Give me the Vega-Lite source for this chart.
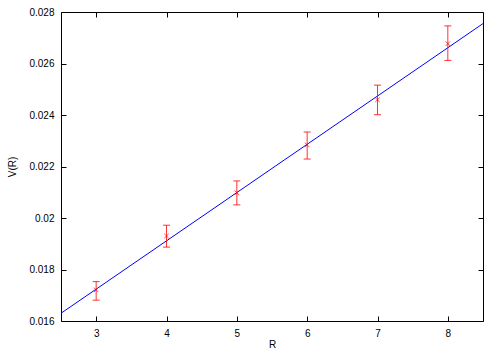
{
  "$schema": "https://vega.github.io/schema/vega-lite/v6.json",
  "width": 422,
  "height": 309,
  "autosize": {"type": "none"},
  "padding": {"left": 61, "top": 12, "right": 17, "bottom": 29},
  "background": "white",
  "config": {
    "view": {"stroke": "black", "strokeWidth": 1},
    "axis": {
      "grid": false,
      "domain": false,
      "ticks": true,
      "tickColor": "black",
      "tickWidth": 1,
      "tickSize": 5,
      "offset": -5,
      "labelFont": "Liberation Sans",
      "labelFontSize": 10,
      "labelColor": "black",
      "titleFont": "Liberation Sans",
      "titleFontSize": 10,
      "titleFontWeight": "normal",
      "titleColor": "black"
    }
  },
  "datasets": {
    "pts": [
      {"R": 3, "V": 0.01721, "lo": 0.01681, "hi": 0.01753},
      {"R": 4, "V": 0.01930, "lo": 0.01887, "hi": 0.01972},
      {"R": 5, "V": 0.02098, "lo": 0.02051, "hi": 0.02144},
      {"R": 6, "V": 0.02284, "lo": 0.02229, "hi": 0.02334},
      {"R": 7, "V": 0.02459, "lo": 0.02401, "hi": 0.02516},
      {"R": 8, "V": 0.02677, "lo": 0.02612, "hi": 0.02746}
    ],
    "fit": [
      {"R": 2.5, "V": 0.0163},
      {"R": 8.5, "V": 0.02755}
    ]
  },
  "layer": [
    {
      "data": {"name": "fit"},
      "mark": {"type": "line", "color": "#0000ff", "strokeWidth": 1, "clip": true},
      "encoding": {
        "x": {"field": "R", "type": "quantitative", "scale": {"domain": [2.5, 8.5], "nice": false, "zero": false},
          "axis": {"orient": "bottom", "title": "R", "values": [3, 4, 5, 6, 7, 8], "labelPadding": 7, "titlePadding": 1}},
        "y": {"field": "V", "type": "quantitative", "scale": {"domain": [0.016, 0.028], "nice": false, "zero": false},
          "axis": {"orient": "left", "title": "V(R)", "values": [0.016, 0.018, 0.02, 0.022, 0.024, 0.026, 0.028], "format": "~g", "labelPadding": 7, "titlePadding": 11}}
      }
    },
    {
      "data": {"name": "pts"},
      "mark": {"type": "rule", "color": "#ff0000", "strokeWidth": 1, "opacity": 0.8},
      "encoding": {
        "x": {"field": "R", "type": "quantitative", "axis": null},
        "y": {"field": "lo", "type": "quantitative", "axis": null},
        "y2": {"field": "hi"}
      }
    },
    {
      "data": {"name": "pts"},
      "mark": {"type": "tick", "color": "#ff0000", "orient": "horizontal", "size": 7, "thickness": 1, "opacity": 0.8},
      "encoding": {
        "x": {"field": "R", "type": "quantitative", "axis": null},
        "y": {"field": "lo", "type": "quantitative", "axis": null}
      }
    },
    {
      "data": {"name": "pts"},
      "mark": {"type": "tick", "color": "#ff0000", "orient": "horizontal", "size": 7, "thickness": 1, "opacity": 0.8},
      "encoding": {
        "x": {"field": "R", "type": "quantitative", "axis": null},
        "y": {"field": "hi", "type": "quantitative", "axis": null}
      }
    },
    {
      "data": {"name": "pts"},
      "mark": {"type": "point", "shape": "M-1,-1L1,1M-1,1L1,-1", "size": 20, "stroke": "#ff0000", "strokeWidth": 1, "filled": false},
      "encoding": {
        "x": {"field": "R", "type": "quantitative", "axis": null},
        "y": {"field": "V", "type": "quantitative", "axis": null}
      }
    },
    {
      "data": {"name": "pts"},
      "mark": {"type": "point", "opacity": 0},
      "encoding": {
        "x": {"field": "R", "type": "quantitative", "axis": {"orient": "top", "labels": false, "title": null, "values": [3, 4, 5, 6, 7, 8]}},
        "y": {"field": "V", "type": "quantitative", "axis": {"orient": "right", "labels": false, "title": null, "values": [0.016, 0.018, 0.02, 0.022, 0.024, 0.026, 0.028]}}
      }
    }
  ],
  "resolve": {"axis": {"x": "independent", "y": "independent"}}
}
